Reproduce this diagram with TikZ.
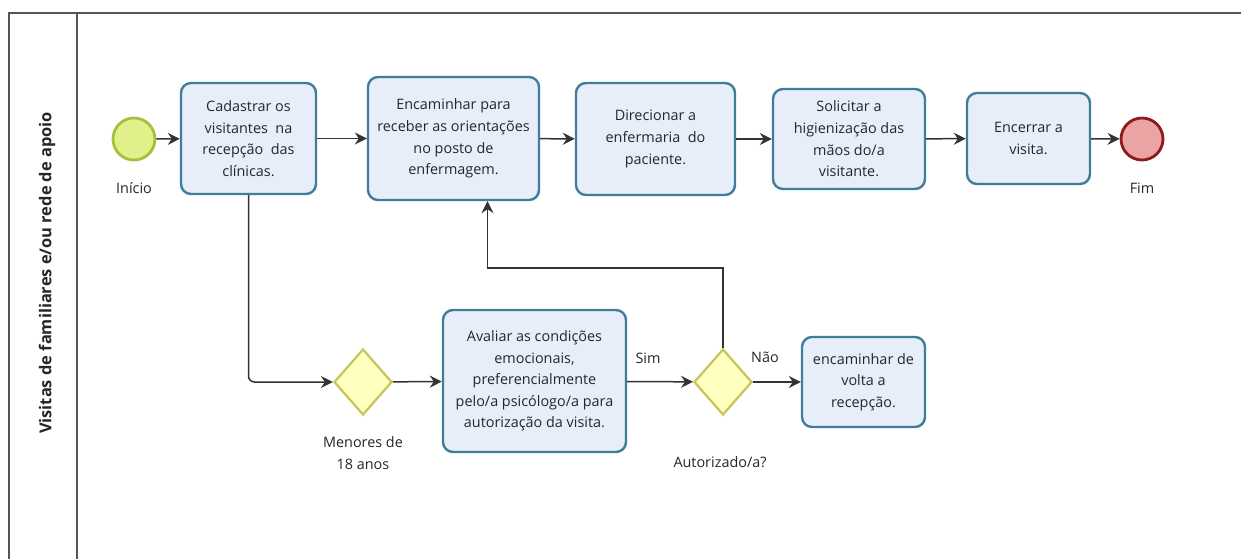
\documentclass[tikz,border=0pt]{standalone}
\usepackage{fontspec}
\setmainfont{Open Sans}
\usetikzlibrary{shapes.geometric,arrows.meta}
\definecolor{taskfill}{HTML}{E7EEFA}
\definecolor{taskline}{HTML}{3F7D9A}
\definecolor{gatefill}{HTML}{FFFFBF}
\definecolor{gateline}{HTML}{C6C45A}
\definecolor{startfill}{HTML}{E2F08C}
\definecolor{startline}{HTML}{A3C13A}
\definecolor{endfill}{HTML}{EBA3A3}
\definecolor{endline}{HTML}{8E1B1B}
\definecolor{lane}{HTML}{555555}
\begin{document}
\begin{tikzpicture}[>={Stealth[length=6pt,width=6pt,inset=2pt]},x=0.5pt,y=-0.5pt,
    every node/.style={font=\fontsize{7.2}{10.8}\selectfont,text=black!85},
    task/.style={draw=taskline,fill=taskfill,line width=1.2pt,rounded corners=5pt,align=center,inner sep=2pt},
    gate/.style={diamond,draw=gateline,fill=gatefill,line width=1.1pt,inner sep=0pt,minimum width=29pt,minimum height=33pt},
    evt/.style={circle,line width=1.4pt,minimum size=21pt,inner sep=0pt},
    flow/.style={->,draw=black!80,line width=0.75pt}]
    \useasboundingbox (0,0) rectangle (1241,559);
    % pool / lane
    \draw[lane,line width=1pt] (1241,13) -- (9,13) -- (9,559) (77,13) -- (77,559);
    \node[rotate=90,font=\fontsize{8.2}{10.8}\selectfont\bfseries] (lanelbl) at (47,273) {Visitas de familiares e/ou rede de apoio};
    % events
    \node[evt,draw=startline,fill=startfill] (ini) at (134,139) {};
    \node (inilbl) at (134,188) {Início};
    \node[evt,draw=endline,fill=endfill] (fim) at (1142,139) {};
    \node (fimlbl) at (1142,188) {Fim};
    % tasks, top row
    \node[task,minimum width=67.5pt,minimum height=55.5pt] (cad) at (248.5,138.5) {Cadastrar os\\visitantes\ \ na\\recepção\ \ das\\clínicas.};
    \node[task,minimum width=85.5pt,minimum height=61.5pt] (enc) at (453.5,138.5) {Encaminhar para\\receber as orientações\\no posto de\\enfermagem.};
    \node[task,minimum width=79.5pt,minimum height=56pt] (dir) at (655.5,139) {Direcionar a\\enfermaria\ \ do\\paciente.};
    \node[task,minimum width=76pt,minimum height=50pt] (sol) at (849,139) {Solicitar a\\higienização das\\mãos do/a\\visitante.};
    \node[task,minimum width=61.5pt,minimum height=45.5pt] (ence) at (1028.5,138.5) {Encerrar a\\visita.};
    % bottom row
    \node[gate] (men) at (363,382) {};
    \node[align=center] (menlbl) at (363,453) {Menores de\\18 anos};
    \node[task,minimum width=91.5pt,minimum height=71pt] (aval) at (534.5,381) {Avaliar as condições\\emocionais,\\preferencialmente\\pelo/a psicólogo/a para\\autorização da visita.};
    \node[gate] (aut) at (723,382) {};
    \node (autlbl) at (720,462) {Autorizado/a?};
    \node (sim) at (648,358) {Sim};
    \node (nao) at (765,357) {Não};
    \node[task,minimum width=61.5pt,minimum height=45pt] (volta) at (863.5,382) {encaminhar de\\volta a\\recepção.};
    % flows
    \draw[flow] (ini) -- (cad);
    \draw[flow] (cad) -- (enc);
    \draw[flow] (enc) -- (dir);
    \draw[flow] (dir) -- (sol);
    \draw[flow] (sol) -- (ence);
    \draw[flow] (ence) -- (fim);
    \draw[flow,rounded corners=3pt] (cad.south) |- (men.west);
    \draw[flow] (men) -- (aval);
    \draw[flow] (aval) -- (aut);
    \draw[flow] (aut) -- (volta);
    \draw[flow] (aut.north) -- (aut.north |- 0,268) -| ([xshift=17pt]enc.south);
\end{tikzpicture}
\end{document}
